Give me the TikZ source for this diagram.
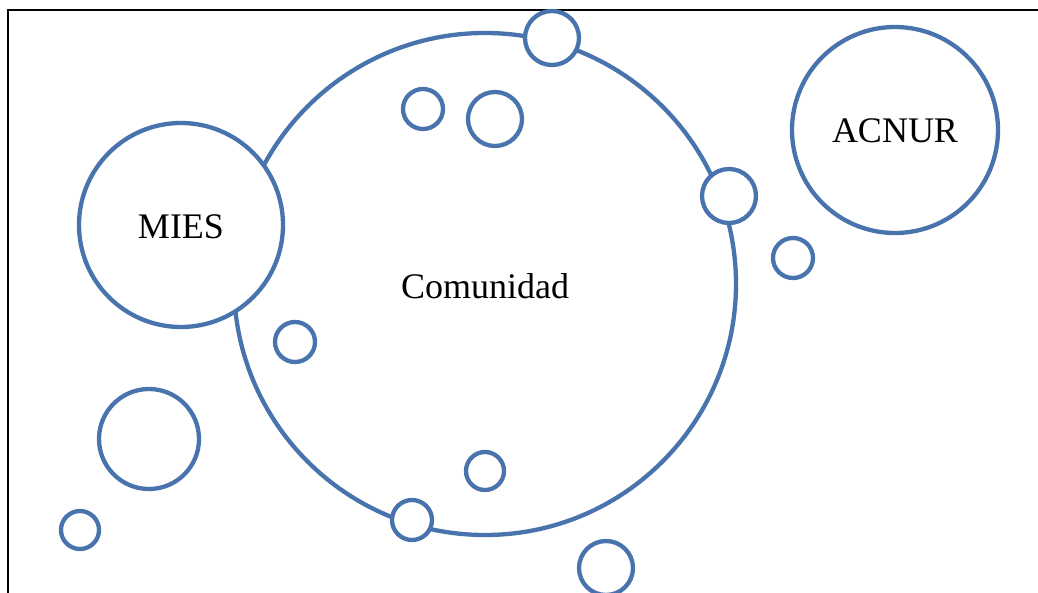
\documentclass[tikz,border=0pt]{standalone}
\usepackage{fontspec}
\setmainfont{Liberation Serif}
\begin{document}
\begin{tikzpicture}[x=1pt,y=-1pt,
  bub/.style={circle,draw=bubblue,fill=white,line width=4.3pt,inner sep=0pt,minimum size=#1},
  lbl/.style={font=\fontsize{36}{42}\selectfont,text=black}]
\definecolor{bubblue}{RGB}{72,115,172}
\useasboundingbox (0,0) rectangle (1038,593);
\draw[line width=2pt,black] (1045,10) -- (7.5,10) -- (7.5,600);
\node[bub=502pt] (com) at (485,284) {};
\node[bub=204pt] (mies) at (181,225) {};
\node[bub=206pt] (acnur) at (895,130) {};
\node[bub=54pt] (s1) at (552,38) {};
\node[bub=40pt] (s2) at (423,109) {};
\node[bub=54pt] (s3) at (495,119) {};
\node[bub=54pt] (s4) at (729,196) {};
\node[bub=40pt] (s5) at (793,258) {};
\node[bub=40pt] (s6) at (295,342) {};
\node[bub=100pt] (s7) at (149,439) {};
\node[bub=38pt] (s8) at (80,530) {};
\node[bub=38pt] (s9) at (485,471) {};
\node[bub=40pt] (s10) at (412,520) {};
\node[bub=54pt] (s11) at (606,568) {};
\node[lbl,anchor=base] (tm) at (181,239) {MIES};
\node[lbl,anchor=base] (tc) at (485,299) {Comunidad};
\node[lbl,anchor=base] (ta) at (895,143) {ACNUR};
\end{tikzpicture}
\end{document}
